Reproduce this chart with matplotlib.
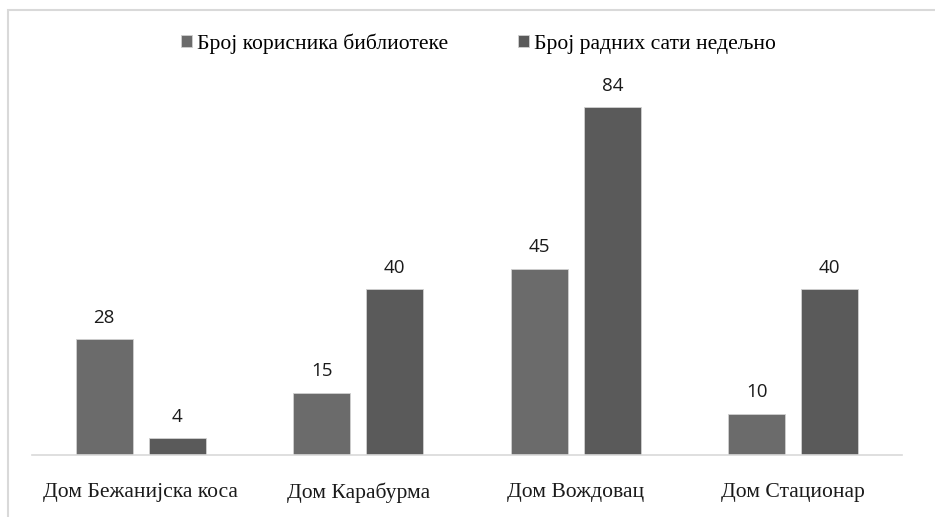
import matplotlib.pyplot as plt
import matplotlib.patches as mpatches
import numpy as np

# data
categories = ['Дом Бежанијска коса', 'Дом Карабурма', 'Дом Вождовац', 'Дом Стационар']
users = [28, 15, 45, 10]
hours = [4, 40, 84, 40]
series_names = ['Број корисника библиотеке', 'Број радних сати недељно']

W, H = 935, 517
fig = plt.figure(figsize=(W / 100, H / 100), dpi=100)

# light frame around the chart area
fig.patches.append(mpatches.Rectangle((8 / W, -0.1), 1.1, (H - 10) / H + 0.1,
                                      transform=fig.transFigure, fill=False,
                                      edgecolor='#d9d9d9', linewidth=1.5))

ax = fig.add_axes([32 / W, (H - 455) / H, 870 / W, 395 / H])

x = np.arange(len(categories))
w = 0.262
off = 0.168
b1 = ax.bar(x - off, users, w, color='#6b6b6b', edgecolor='#d0d0d0', linewidth=0.6,
            label=series_names[0])
b2 = ax.bar(x + off, hours, w, color='#5a5a5a', edgecolor='#d0d0d0', linewidth=0.6,
            label=series_names[1])

for bars in (b1, b2):
    for r in bars:
        ax.text(r.get_x() + r.get_width() / 2, r.get_height() + 3.0, str(int(r.get_height())),
                ha='center', va='bottom', fontsize=13.5, family='Open Sans', color='#1a1a1a')

ax.set_xlim(-0.5, len(categories) - 0.5)
ax.set_ylim(0, 95.35)
ax.set_xticks(x)
ax.set_xticklabels(categories, family='Liberation Serif', fontsize=15.6, color='#1a1a1a')
ax.tick_params(axis='x', length=0, pad=20)
ax.set_yticks([])
for s in ['top', 'right', 'left']:
    ax.spines[s].set_visible(False)
ax.spines['bottom'].set_color('#d9d9d9')
ax.spines['bottom'].set_linewidth(1.2)

fig.legend(handles=[b1, b2], loc='center', bbox_to_anchor=(478.5 / W, 1 - 43.5 / H), ncol=2,
           frameon=False, handlelength=0.5, handleheight=0.5, handletextpad=0.25,
           columnspacing=3.2, prop={'family': 'Liberation Serif', 'size': 15.6})

fig.savefig('out.png', dpi=100)
